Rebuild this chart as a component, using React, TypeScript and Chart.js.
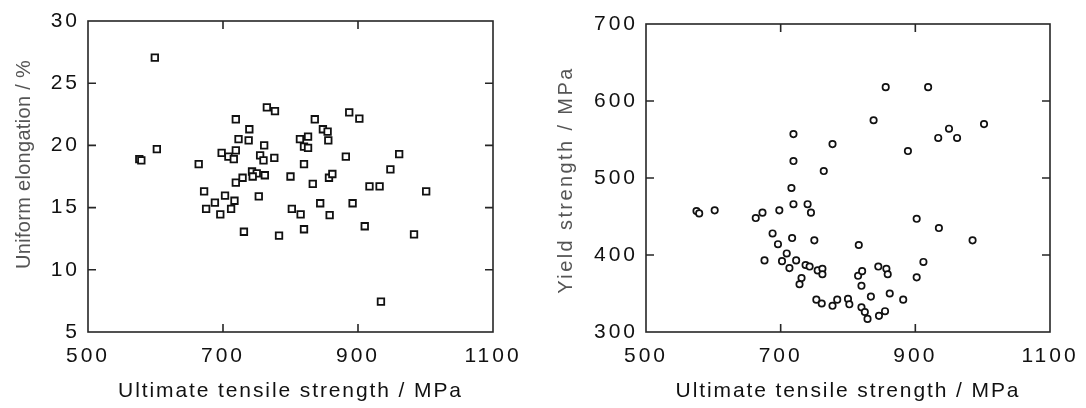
import React, { useEffect, useRef } from "react";
import { Chart, registerables } from "chart.js";
Chart.register(...registerables);

// ---------- data ----------
const elongUTS = [599, 765, 777, 719, 739, 723, 738, 761, 602, 698, 719, 708, 716, 755, 776, 814, 826, 820, 826, 836, 887, 902, 848, 855, 856, 882, 961, 576, 579, 664, 760, 820, 743, 750, 744, 729, 762, 800, 719, 672, 703, 688, 717, 753, 675, 696, 712, 802, 815, 820, 731, 783, 948, 857, 862, 833, 917, 932, 1001, 844, 892, 858, 910, 983, 934];
const elongation = [27.05, 23.06, 22.76, 22.1, 21.3, 20.5, 20.4, 20.0, 19.7, 19.4, 19.6, 19.1, 18.9, 19.2, 19.0, 20.5, 20.7, 19.9, 19.8, 22.1, 22.66, 22.15, 21.3, 21.1, 20.4, 19.1, 19.3, 18.9, 18.8, 18.5, 18.8, 18.5, 17.9, 17.75, 17.5, 17.4, 17.6, 17.5, 17.0, 16.3, 15.96, 15.4, 15.55, 15.9, 14.9, 14.46, 14.9, 14.9, 14.46, 13.26, 13.06, 12.74, 18.08, 17.4, 17.7, 16.9, 16.7, 16.7, 16.3, 15.35, 15.35, 14.4, 13.5, 12.85, 7.44];

const yieldUTS = [575, 579, 602, 663, 673, 698, 688, 696, 676, 709, 702, 717, 723, 713, 737, 743, 750, 755, 762, 762, 731, 728, 753, 761, 777, 784, 800, 802, 820, 825, 829, 834, 846, 855, 862, 882, 820, 815, 821, 845, 857, 859, 902, 912, 816, 902, 935, 985, 719, 740, 745, 716, 719, 764, 719, 777, 889, 838, 856, 919, 934, 950, 962, 1002];
const yieldStrength = [457, 454, 458, 448, 455, 458, 428, 414, 393, 402, 392, 422, 393, 383, 387, 385, 419, 380, 382, 375, 370, 362, 342, 337, 334, 342, 343, 336, 332, 326, 317, 346, 321, 327, 350, 342, 360, 373, 379, 385, 382, 375, 371, 391, 413, 447, 435, 419, 466, 466, 455, 487, 522, 509, 557, 544, 535, 575, 618, 618, 552, 564, 552, 570];

const utsTicks = [500, 700, 900, 1100];
const elongTicks = [5, 10, 15, 20, 25, 30];
const yieldTicks = [300, 400, 500, 600, 700];

const xTitle = "Ultimate tensile strength / MPa";
const elongTitle = "Uniform elongation / %";
const yieldTitle = "Yield strength / MPa";

// ---------- helpers ----------
const FONT = "'Liberation Sans', Arial, Helvetica, sans-serif";
const INK = "#111111";

function patchSpacing(scale: any, tickSpacing: string, titleSpacing: string, titleShift: number) {
  if (scale.__spaced) return;
  scale.__spaced = true;
  const origLabels = scale.drawLabels;
  const origTitle = scale.drawTitle;
  scale.drawLabels = function (area: any) {
    const ctx = this.ctx;
    ctx.save();
    (ctx as any).letterSpacing = tickSpacing;
    origLabels.call(this, area);
    ctx.restore();
  };
  scale.drawTitle = function (area: any) {
    const ctx = this.ctx;
    ctx.save();
    (ctx as any).letterSpacing = titleSpacing;
    ctx.translate(0, titleShift);
    origTitle.call(this, area);
    ctx.restore();
  };
}

const framePlugin = {
  id: "frame",
  afterDraw(chart: any) {
    const { ctx, chartArea: a, scales } = chart;
    const L = 8;
    ctx.save();
    ctx.strokeStyle = "#262626";
    ctx.lineWidth = 1.6;
    ctx.strokeRect(a.left, a.top, a.right - a.left, a.bottom - a.top);
    ctx.beginPath();
    const xs = scales.x;
    xs.ticks.forEach((t: any) => {
      if (t.value <= xs.min || t.value >= xs.max) return;
      const p = xs.getPixelForValue(t.value);
      ctx.moveTo(p, a.bottom);
      ctx.lineTo(p, a.bottom - L);
      ctx.moveTo(p, a.top);
      ctx.lineTo(p, a.top + L);
    });
    const ys = scales.y;
    ys.ticks.forEach((t: any) => {
      if (t.value <= ys.min || t.value >= ys.max) return;
      const p = ys.getPixelForValue(t.value);
      ctx.moveTo(a.left, p);
      ctx.lineTo(a.left + L, p);
      ctx.moveTo(a.right, p);
      ctx.lineTo(a.right - L, p);
    });
    ctx.stroke();
    ctx.restore();
  },
};

type PanelProps = {
  xs: number[];
  ys: number[];
  yTicks: number[];
  yTitle: string;
  pointStyle: string;
  radius: number;
  border: number;
  padTop: number;
  padRight: number;
  yAxisWidth: number;
  yTitlePad: number;
  yTitleSpacing: string;
  yTitleShift: number;
  left: number;
};

function Panel(p: PanelProps) {
  const ref = useRef<HTMLCanvasElement | null>(null);
  useEffect(() => {
    if (!ref.current) return;
    const data = p.xs.map((x, i) => ({ x, y: p.ys[i] }));
    const chart = new Chart(ref.current, {
      type: "scatter",
      data: {
        datasets: [
          {
            data,
            pointStyle: p.pointStyle as any,
            pointRadius: p.radius,
            pointBorderWidth: p.border,
            pointBorderColor: "#111111",
            pointBackgroundColor: "#ffffff",
          },
        ],
      },
      plugins: [framePlugin],
      options: {
        animation: false,
        responsive: false,
        devicePixelRatio: 1,
        layout: { padding: { top: p.padTop, right: p.padRight, left: 0, bottom: 0 } },
        plugins: { legend: { display: false }, tooltip: { enabled: false } },
        scales: {
          x: {
            type: "linear",
            min: utsTicks[0],
            max: utsTicks[utsTicks.length - 1],
            afterBuildTicks: (s: any) => {
              s.ticks = utsTicks.map((v) => ({ value: v }));
            },
            grid: { display: false, drawTicks: false },
            border: { display: false },
            ticks: {
              padding: 12,
              color: INK,
              font: { family: FONT, size: 21 },
              maxRotation: 0,
              autoSkip: false,
              callback: (v: any) => String(v),
            },
            title: {
              display: true,
              text: xTitle,
              color: INK,
              font: { family: FONT, size: 21 },
              padding: { top: 0, bottom: 4 },
            },
            afterFit: (s: any) => {
              s.height = 76;
              patchSpacing(s, "3px", "1.9px", 0);
            },
          },
          y: {
            type: "linear",
            min: p.yTicks[0],
            max: p.yTicks[p.yTicks.length - 1],
            afterBuildTicks: (s: any) => {
              s.ticks = p.yTicks.map((v) => ({ value: v }));
            },
            grid: { display: false, drawTicks: false },
            border: { display: false },
            ticks: {
              padding: 8,
              color: INK,
              font: { family: FONT, size: 21 },
              autoSkip: false,
              callback: (v: any) => String(v),
            },
            title: {
              display: true,
              text: p.yTitle,
              color: "#555555",
              font: { family: FONT, size: 20 },
              padding: { top: p.yTitlePad, bottom: 0 },
            },
            afterFit: (s: any) => {
              s.width = p.yAxisWidth;
              patchSpacing(s, "3px", p.yTitleSpacing, p.yTitleShift);
            },
          },
        },
      } as any,
    });
    return () => chart.destroy();
  }, []);
  return (
    <canvas
      ref={ref}
      width={543}
      height={408}
      style={{ position: "absolute", left: p.left, top: 0, width: 543, height: 408 }}
    />
  );
}

export default function App() {
  return (
    <div style={{ position: "absolute", left: 0, top: 0, width: 1086, height: 408, background: "#fff" }}>
      <Panel
        xs={elongUTS}
        ys={elongation}
        yTicks={elongTicks}
        yTitle={elongTitle}
        pointStyle="rect"
        radius={4.6}
        border={1.8}
        padTop={21}
        padRight={50}
        yAxisWidth={88}
        yTitlePad={12}
        yTitleSpacing="0.3px"
        yTitleShift={-12}
        left={0}
      />
      <Panel
        xs={yieldUTS}
        ys={yieldStrength}
        yTicks={yieldTicks}
        yTitle={yieldTitle}
        pointStyle="circle"
        radius={3.2}
        border={1.7}
        padTop={24}
        padRight={36}
        yAxisWidth={103}
        yTitlePad={11}
        yTitleSpacing="2.4px"
        yTitleShift={2}
        left={543}
      />
    </div>
  );
}
